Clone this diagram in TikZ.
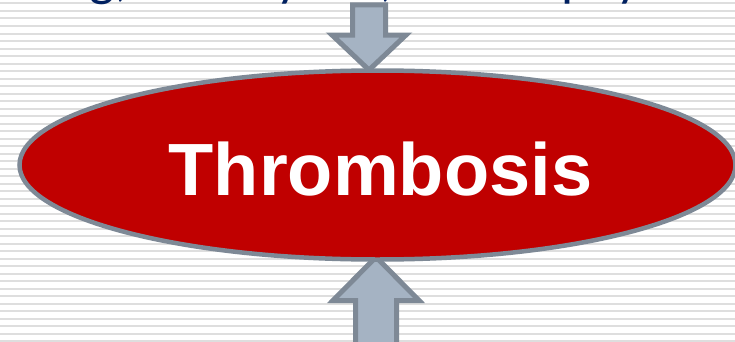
\documentclass[tikz,border=0pt]{standalone}
\usepackage{fontspec}
\setmainfont{Liberation Sans}
\newfontfamily\calibfont{Carlito}
\definecolor{stripegray}{RGB}{222,222,222}
\definecolor{navytext}{RGB}{0,32,96}
\definecolor{bordergray}{RGB}{126,137,150}
\definecolor{arrowfill}{RGB}{165,179,195}
\definecolor{clotred}{RGB}{192,0,0}
\tikzset{
  blockarrow/.style={fill=arrowfill, draw=bordergray, line width=5pt, line join=miter},
  clot/.style={ellipse, fill=clotred, draw=bordergray, line width=4.5pt, minimum width=716pt, minimum height=189pt, inner sep=0pt},
  cliptext/.style={font=\calibfont\fontsize{54}{54}\selectfont, text=navytext, inner sep=0pt, anchor=base west},
  bigtitle/.style={font=\bfseries\fontsize{74}{74}\selectfont, text=white, inner sep=0pt, anchor=base}
}
\usetikzlibrary{shapes.geometric}
\begin{document}
\begin{tikzpicture}[x=1pt,y=1pt]
\useasboundingbox (0,0) rectangle (735,341);
\clip (0,0) rectangle (735,341);
\fill[white] (0,0) rectangle (735,341);
\foreach \k in {0,...,45}{
  \fill[stripegray] (0,{341-3.5-7.5*\k-1}) rectangle (735,{341-3.5-7.5*\k+1});
}
\node[cliptext] (causes) at (-72,345) {Smoking, obesity etc, lack of physical activity};
% top arrow (pointing down)
\coordinate (toptip) at (369,271);
\draw[blockarrow] (toptip) -- ++(-37,35) -- ++(20.5,0) -- ++(0,30) -- ++(33,0) -- ++(0,-30) -- ++(20.5,0) -- cycle;
% bottom arrow (pointing up)
\coordinate (bottip) at (376,84);
\draw[blockarrow] (bottip) -- ++(-43,-43.5) -- ++(22.5,0) -- ++(0,-50) -- ++(41,0) -- ++(0,50) -- ++(22.5,0) -- cycle;
\node[clot] (thrombosis) at (377.5,176) {};
\node[bigtitle] (label) at (380.5,146) {Thrombosis};
\end{tikzpicture}
\end{document}
